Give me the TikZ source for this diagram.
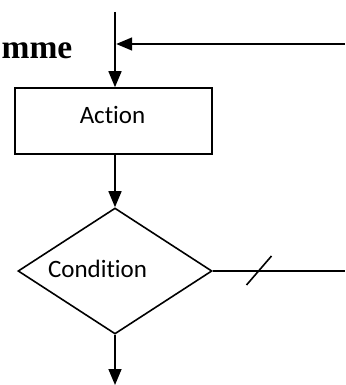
\documentclass[tikz,border=0pt]{standalone}
\usepackage{fontspec}
\setmainfont{Carlito}[Ligatures={NoCommon}]
\newfontfamily\titlefont{Liberation Serif}
\usetikzlibrary{arrows.meta,shapes.geometric,calc}
\tikzset{
  conn/.style={line width=1.6pt, -{Triangle[length=16pt,width=13pt]}},
  plain/.style={line width=1.6pt},
  boxshape/.style={draw, line width=1.6pt, minimum width=197pt, minimum height=66pt, inner sep=0pt},
  condshape/.style={draw, diamond, line width=1.6pt, minimum width=194pt, minimum height=126pt, inner sep=0pt},
  lbl/.style={font=\fontsize{25}{30}\selectfont, inner sep=0pt, anchor=base},
}
\begin{document}
\begin{tikzpicture}[x=1pt,y=-1pt]
\useasboundingbox (0,0) rectangle (345,385);
% title fragment
\node[font=\titlefont\bfseries\fontsize{33.5}{40}\selectfont, inner sep=0pt, anchor=base east] (title) at (72.5,59) {mme};
% shapes
\node[boxshape] (act) at (113.5,121) {};
\node[lbl] (acttxt) at (112.5,123.3) {Action};
\node[condshape] (cond) at (115,271) {};
\node[lbl] (condtxt) at (97.5,277) {Condition};
% coordinates
\coordinate (top) at (115,12);
\coordinate (join) at (115,44);
\coordinate (rin) at (345,44);
\coordinate (rout) at (345,271);
\coordinate (bot) at (115,385);
\coordinate (slash) at (259,270.5);
% connectors
\draw[conn] (top) -- (top |- act.north);
\draw[conn, shorten >=1.2pt] (rin) -- (join);
\draw[conn] (top |- act.south) -- (cond.north);
\draw[plain] (cond.east) -- (rout);
\draw[plain] ($(slash)+(-12.5,14.5)$) -- ($(slash)+(12.5,-14.5)$);
\draw[conn] (cond.south) -- (bot);
\end{tikzpicture}
\end{document}
